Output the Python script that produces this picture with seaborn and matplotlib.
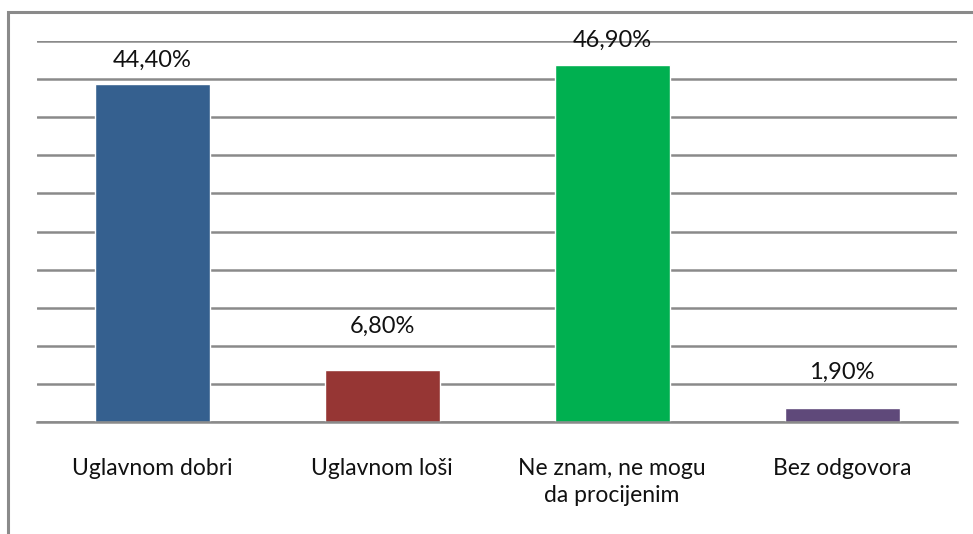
import numpy as np
import pandas as pd
import matplotlib
matplotlib.use('Agg')
import matplotlib.pyplot as plt
from matplotlib.patches import Rectangle
import seaborn as sns

# podaci
kategorije = ['Uglavnom dobri', 'Uglavnom loši', 'Ne znam, ne mogu\nda procijenim', 'Bez odgovora']
procenti = [44.4, 6.8, 46.9, 1.9]
boje = ['#35608F', '#963634', '#00B050', '#5F497A']

df = pd.DataFrame({'kat': kategorije, 'pct': procenti})

sns.set_style('white')
plt.rcParams['font.family'] = ['Lato', 'DejaVu Sans']

fig = plt.figure(figsize=(9.73, 5.34), dpi=100)
ax = fig.add_axes([37 / 973, 112 / 534, 920 / 973, 381 / 534])

sns.barplot(data=df, x='kat', y='pct', hue='kat', palette=boje, legend=False,
            width=0.5, saturation=1, ax=ax, zorder=3)

ax.set_ylim(0, 50)
ax.set_xlim(-0.5, 3.5)
ax.set_yticks(np.arange(0, 51, 5))
ax.set_yticklabels([])
ax.yaxis.grid(True, color='#8a8a8a', linewidth=1.8, zorder=0)
ax.tick_params(axis='y', length=0)
ax.set_xlabel('')
ax.set_ylabel('')

# oznake kategorija i crtice na granicama
ax.set_xticks(range(len(kategorije)))
ax.set_xticklabels(kategorije, fontsize=16.5, color='#111111', linespacing=1.35)
ax.tick_params(axis='x', which='major', length=0, pad=26)
ax.set_xticks(np.arange(-0.5, 4, 1), minor=True)
ax.tick_params(axis='x', which='minor', length=6, width=1.8, color='#8a8a8a', direction='out')

for s in ['left', 'right', 'top']:
    ax.spines[s].set_visible(False)
ax.spines['bottom'].set_color('#8a8a8a')
ax.spines['bottom'].set_linewidth(1.8)
ax.spines['bottom'].set_zorder(4)

# vrijednosti iznad stubaca (razmak u px kao u originalu)
razmak = [23, 44, 24, 35]
for i, v in enumerate(procenti):
    ax.annotate(f'{v:.2f}%'.replace('.', ','), (i, v), xytext=(0, razmak[i] * 0.72),
                textcoords='offset points', ha='center', va='center',
                fontsize=17, color='#111111', annotation_clip=False, zorder=5)

# okvir grafikona
fig.add_artist(Rectangle((8 / 973, -0.2), 1.2, 1.2 - 12 / 534, fill=False,
                         edgecolor='#8a8a8a', linewidth=2.2, clip_on=False,
                         transform=fig.transFigure))

fig.savefig('out.png', dpi=100)
